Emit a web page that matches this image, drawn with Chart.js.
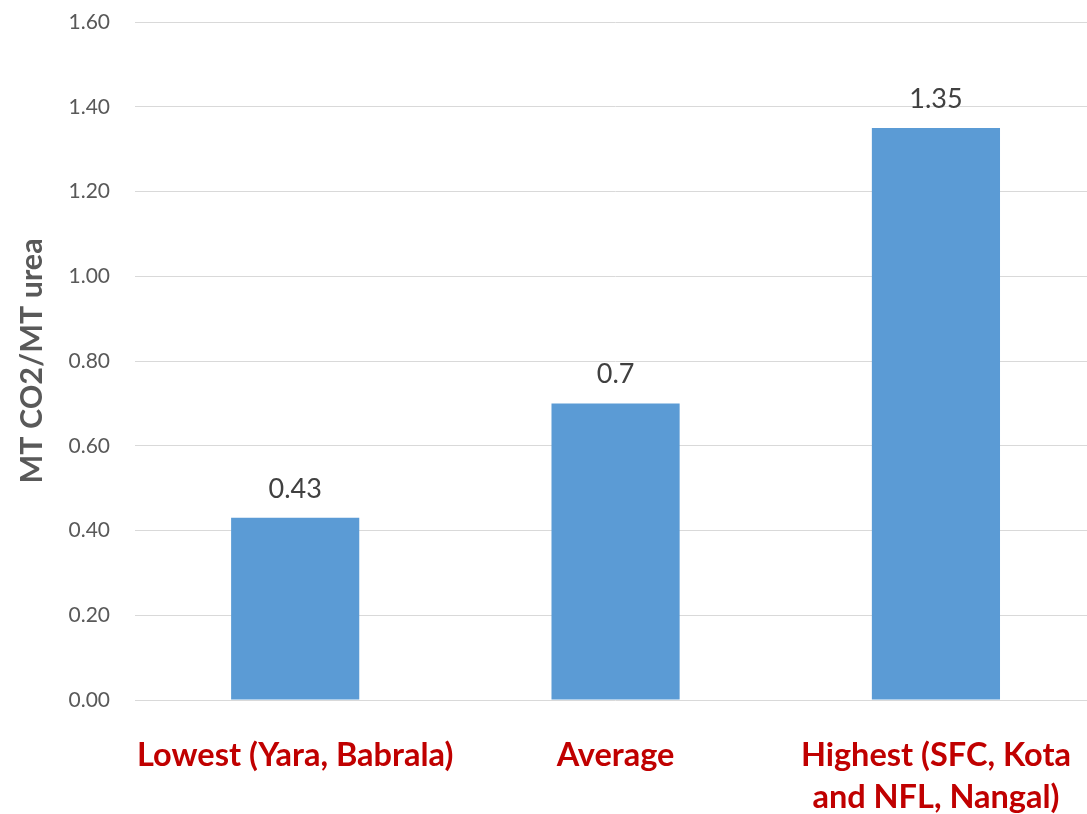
<!DOCTYPE html>
<html>
<head>
<meta charset="utf-8">
<script src="https://cdn.jsdelivr.net/npm/chart.js@4/dist/chart.umd.min.js"></script>
<style>
  html, body { margin: 0; padding: 0; background: #ffffff; overflow: hidden; }
  #wrap { width: 1098px; height: 814px; }
</style>
</head>
<body>
<div id="wrap"><canvas id="c" width="1098" height="814"></canvas></div>
<script>
// Emission intensity of urea plants
const categories = [
  'Lowest (Yara, Babrala)',
  'Average',
  ['Highest (SFC, Kota', 'and NFL, Nangal)']
];
const emissions = [0.43, 0.7, 1.35];
const valueLabels = ['0.43', '0.7', '1.35'];
const yTicks = { min: 0, max: 1.6, step: 0.2 };
const yTitle = 'MT CO2/MT urea';

const FONT = 'Lato, "Open Sans", sans-serif';

// Writes each bar's value just above its top
const barValueLabels = {
  id: 'barValueLabels',
  afterDatasetsDraw(chart) {
    const { ctx } = chart;
    const meta = chart.getDatasetMeta(0);
    ctx.save();
    ctx.font = '27px ' + FONT;
    ctx.fillStyle = '#404040';
    ctx.textAlign = 'center';
    ctx.textBaseline = 'alphabetic';
    meta.data.forEach((bar, i) => {
      ctx.fillText(valueLabels[i], bar.x, bar.y - 20);
    });
    ctx.restore();
  }
};

new Chart(document.getElementById('c'), {
  type: 'bar',
  data: {
    labels: categories,
    datasets: [{
      data: emissions,
      backgroundColor: '#5B9BD5',
      borderWidth: 0,
      barPercentage: 0.4,
      categoryPercentage: 1.0
    }]
  },
  options: {
    responsive: false,
    animation: false,
    layout: { padding: { top: 22, right: 0, bottom: 0, left: 0 } },
    plugins: {
      legend: { display: false },
      tooltip: { enabled: false }
    },
    scales: {
      x: {
        grid: { display: false },
        border: { display: false },
        ticks: {
          color: '#C00000',
          padding: 27,
          maxRotation: 0,
          autoSkip: false,
          font: { family: FONT, size: 32.5, weight: 'bold', lineHeight: '42px' }
        },
        afterFit(scale) {
          scale.height = 114;
          scale.paddingTop = 0;
          scale.paddingBottom = 0;
        }
      },
      y: {
        min: yTicks.min,
        max: yTicks.max,
        grid: { color: '#d9d9d9', lineWidth: 1, drawTicks: false },
        border: { display: false },
        ticks: {
          stepSize: yTicks.step,
          color: '#595959',
          padding: 25,
          font: { family: FONT, size: 21 },
          callback: (v) => Number(v).toFixed(2)
        },
        title: {
          display: true,
          text: yTitle,
          color: '#595959',
          font: { family: FONT, size: 30.5, weight: 'bold' },
          padding: { top: 14, bottom: 0 }
        },
        afterFit(scale) {
          scale.width = 135;
          scale.paddingTop = 0;
          scale.paddingBottom = 0;
        }
      }
    }
  },
  plugins: [barValueLabels]
});
</script>
</body>
</html>
